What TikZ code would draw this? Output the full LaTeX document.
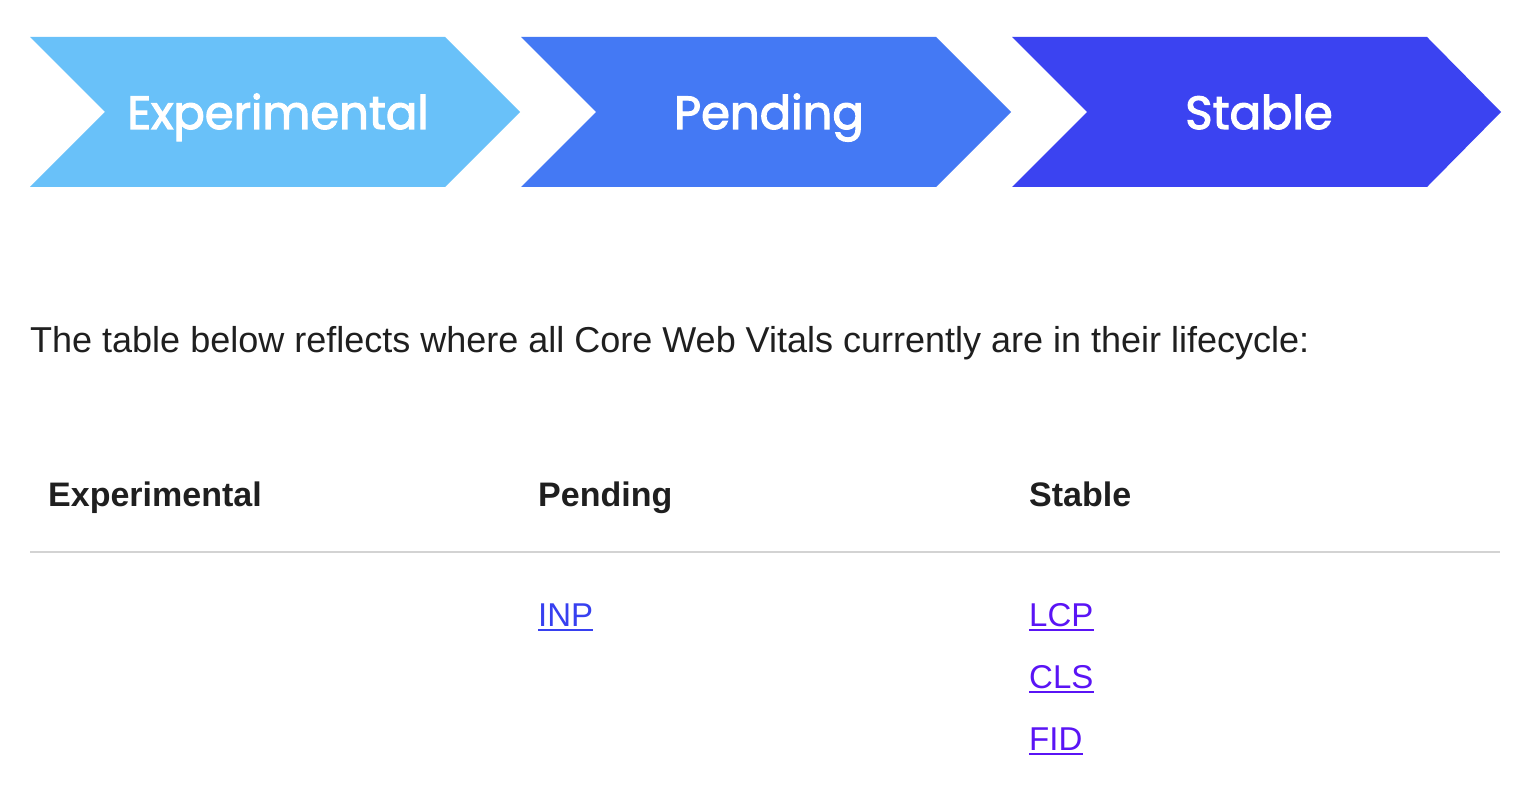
\documentclass[tikz,border=0pt]{standalone}
\usepackage{fontspec}
\setmainfont{Liberation Sans}
\newfontfamily\chevfont{Poppins}[FakeBold=2.5]
\usetikzlibrary{positioning}
\definecolor{expblue}{HTML}{69C1F9}
\definecolor{pendblue}{HTML}{4479F4}
\definecolor{stabblue}{HTML}{3B43F1}
\definecolor{newlink}{HTML}{3740F0}
\definecolor{oldlink}{HTML}{5A14F5}
\definecolor{rulegray}{HTML}{D3D3D3}
\definecolor{bodyink}{HTML}{1F1F1F}
\tikzstyle{chevlabel}=[text=white, inner sep=0pt, anchor=base, font=\chevfont\fontsize{46.5}{56}\selectfont]
\tikzstyle{bodytext}=[text=bodyink, inner sep=0pt, anchor=base west, font=\fontsize{36}{42}\selectfont]
\tikzstyle{headtext}=[text=bodyink, inner sep=0pt, anchor=base west, font=\bfseries\fontsize{34}{40}\selectfont]
\tikzstyle{linktext}=[inner sep=0pt, anchor=base west, font=\fontsize{33}{40}\selectfont]
\tikzstyle{underline}=[line width=2.5pt]

\begin{document}
\begin{tikzpicture}[x=1pt, y=-1pt]
	\useasboundingbox[fill=white] (0, 0) rectangle (1530, 802);
	% lifecycle chevrons
	\fill[expblue] (30, 37) -- (445, 37) -- (520, 112) -- (445, 187) -- (30, 187) -- (105, 112) -- cycle;
	\fill[pendblue] (521, 37) -- (936, 37) -- (1011, 112) -- (936, 187) -- (521, 187) -- (596, 112) -- cycle;
	\fill[stabblue] (1012, 37) -- (1427, 37) -- (1501, 112) -- (1427, 187) -- (1012, 187) -- (1087, 112) -- cycle;
	\node(chevexp)[chevlabel] at (278, 129) {Experimental};
	\node(chevpend)[chevlabel] at (769, 129) {Pending};
	\node(chevstab)[chevlabel] at (1259, 129) {Stable};
	% text and table
	\node(intro)[bodytext] at (30, 352) {The table below reflects where all Core Web Vitals currently are in their lifecycle:};
	\node(headexp)[headtext] at (48, 506) {Experimental};
	\node(headpend)[headtext] at (538, 506) {Pending};
	\node(headstab)[headtext] at (1029, 506) {Stable};
	\coordinate(ruleleft) at (30, 552);
	\coordinate(ruleright) at (1500, 552);
	\draw[rulegray, line width=1.5pt] (ruleleft) -- (ruleright);
	\node(inp)[linktext, text=newlink] at (538, 626) {INP};
	\node(lcp)[linktext, text=oldlink] at (1029, 626) {LCP};
	\node(cls)[linktext, text=oldlink] at (1029, 688) {CLS};
	\node(fid)[linktext, text=oldlink] at (1029, 750) {FID};
	\draw[underline, newlink] ([yshift=-4pt]inp.base west) -- ([yshift=-4pt]inp.base east);
	\draw[underline, oldlink] ([yshift=-4pt]lcp.base west) -- ([yshift=-4pt]lcp.base east);
	\draw[underline, oldlink] ([yshift=-4pt]cls.base west) -- ([yshift=-4pt]cls.base east);
	\draw[underline, oldlink] ([yshift=-4pt]fid.base west) -- ([yshift=-4pt]fid.base east);
\end{tikzpicture}
\end{document}
